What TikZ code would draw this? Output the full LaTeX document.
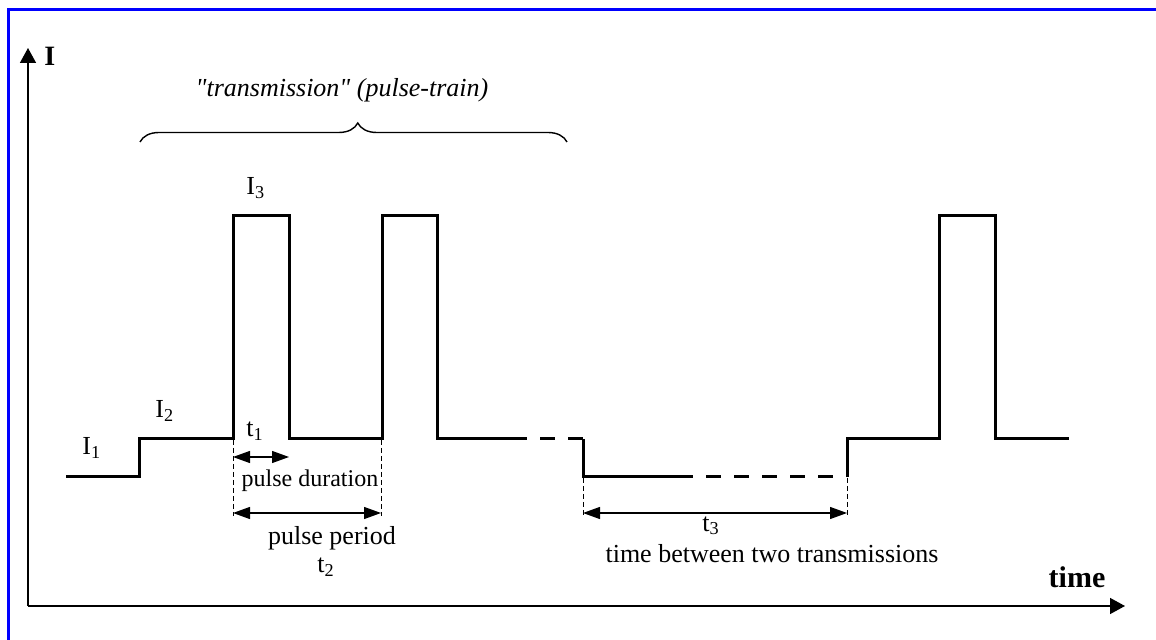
\documentclass[tikz,border=0pt]{standalone}
\usepackage{fontspec}
\setmainfont{Liberation Serif}[Ligatures=TeXOff]
\usetikzlibrary{arrows.meta,decorations.pathreplacing}
\tikzstyle{signal}=[line width=1.5pt]
\tikzstyle{gap}=[line width=1.5pt,dash pattern=on 7.5pt off 6.5pt,dash phase=7.5pt]
\tikzstyle{guide}=[line width=0.5pt,dash pattern=on 2.5pt off 1.5pt]
\tikzstyle{span}=[line width=0.6pt,{Triangle[length=8.5pt,width=6pt]}-{Triangle[length=8.5pt,width=6pt]}]
\tikzstyle{axis}=[line width=0.75pt,-{Triangle[length=7.5pt,width=8pt]}]
\tikzstyle{lbl}=[inner sep=0pt,font=\fontsize{13}{15}\selectfont]

\begin{document}
\begin{tikzpicture}[x=0.5pt,y=-0.5pt]
  \useasboundingbox (0,0) rectangle (1156,640);
  \draw[blue,line width=1.5pt] (8,640) -- (8,10) -- (1156,10);
  % axes
  \coordinate (o) at (28,606);
  \coordinate (ytop) at (28,48);
  \coordinate (xend) at (1125,606);
  \draw[axis] (o) -- (ytop);
  \draw[axis] (o) -- (xend);
  \node[lbl,anchor=base west,font=\bfseries\fontsize{14}{16}\selectfont] (ilab) at (44,66) {I};
  \node[lbl,anchor=base,font=\bfseries\fontsize{15}{17}\selectfont] (tlab) at (1077,588) {time};
  % current waveform
  \draw[signal] (66,477) -- (139,477) -- (139,439) -- (233,439) -- (233,216) -- (289,216)
    -- (289,439) -- (382,439) -- (382,216) -- (437,216) -- (437,439) -- (527,439);
  \draw[gap] (527,439) -- (583,439);
  \draw[signal] (583,439) -- (583,477) -- (693,477);
  \draw[gap] (693,477) -- (845,477);
  \draw[signal] (847,477) -- (847,439) -- (939,439) -- (939,216) -- (995,216) -- (995,439) -- (1069,439);
  % levels
  \node[lbl,anchor=base west] (i1) at (82,455) {I\textsubscript{1}};
  \node[lbl,anchor=base west] (i2) at (155,418) {I\textsubscript{2}};
  \node[lbl,anchor=base west] (i3) at (246,195) {I\textsubscript{3}};
  % transmission brace
  \coordinate (bl) at (140,142);
  \coordinate (br) at (567,142);
  \draw[line width=0.7pt,decorate,decoration={brace,amplitude=9.5pt,aspect=0.51}] (bl) -- (br);
  \node[lbl,anchor=base,font=\itshape\fontsize{13}{15}\selectfont] (trans) at (342,97)
    {"transmission" (pulse-train)};
  % guide lines
  \coordinate (g1t) at (233,440);
  \coordinate (g1b) at (233,516);
  \coordinate (g2t) at (381,440);
  \coordinate (g2b) at (381,516);
  \coordinate (g3t) at (583,478);
  \coordinate (g3b) at (583,516);
  \coordinate (g4t) at (847,478);
  \coordinate (g4b) at (847,516);
  \draw[guide] (g1t) -- (g1b);
  \draw[guide] (g2t) -- (g2b);
  \draw[guide] (g3t) -- (g3b);
  \draw[guide] (g4t) -- (g4b);
  % t1
  \coordinate (a1) at (233,457);
  \coordinate (b1) at (289,457);
  \draw[span] (a1) -- (b1);
  \node[lbl,anchor=base west] (t1) at (246,437) {t\textsubscript{1}};
  \node[lbl,anchor=base,font=\fontsize{12}{14}\selectfont] (dur) at (310,487) {pulse duration};
  % t2
  \coordinate (a2) at (233,513);
  \coordinate (b2) at (381,513);
  \draw[span] (a2) -- (b2);
  \node[lbl,anchor=base] (per) at (332,545) {pulse period};
  \node[lbl,anchor=base west] (t2) at (317,573) {t\textsubscript{2}};
  % t3
  \coordinate (a3) at (583,513);
  \coordinate (b3) at (847,513);
  \draw[span] (a3) -- (b3);
  \node[lbl,anchor=base west] (t3) at (702,531) {t\textsubscript{3}};
  \node[lbl,anchor=base] (between) at (772,563) {time between two transmissions};
\end{tikzpicture}
\end{document}
